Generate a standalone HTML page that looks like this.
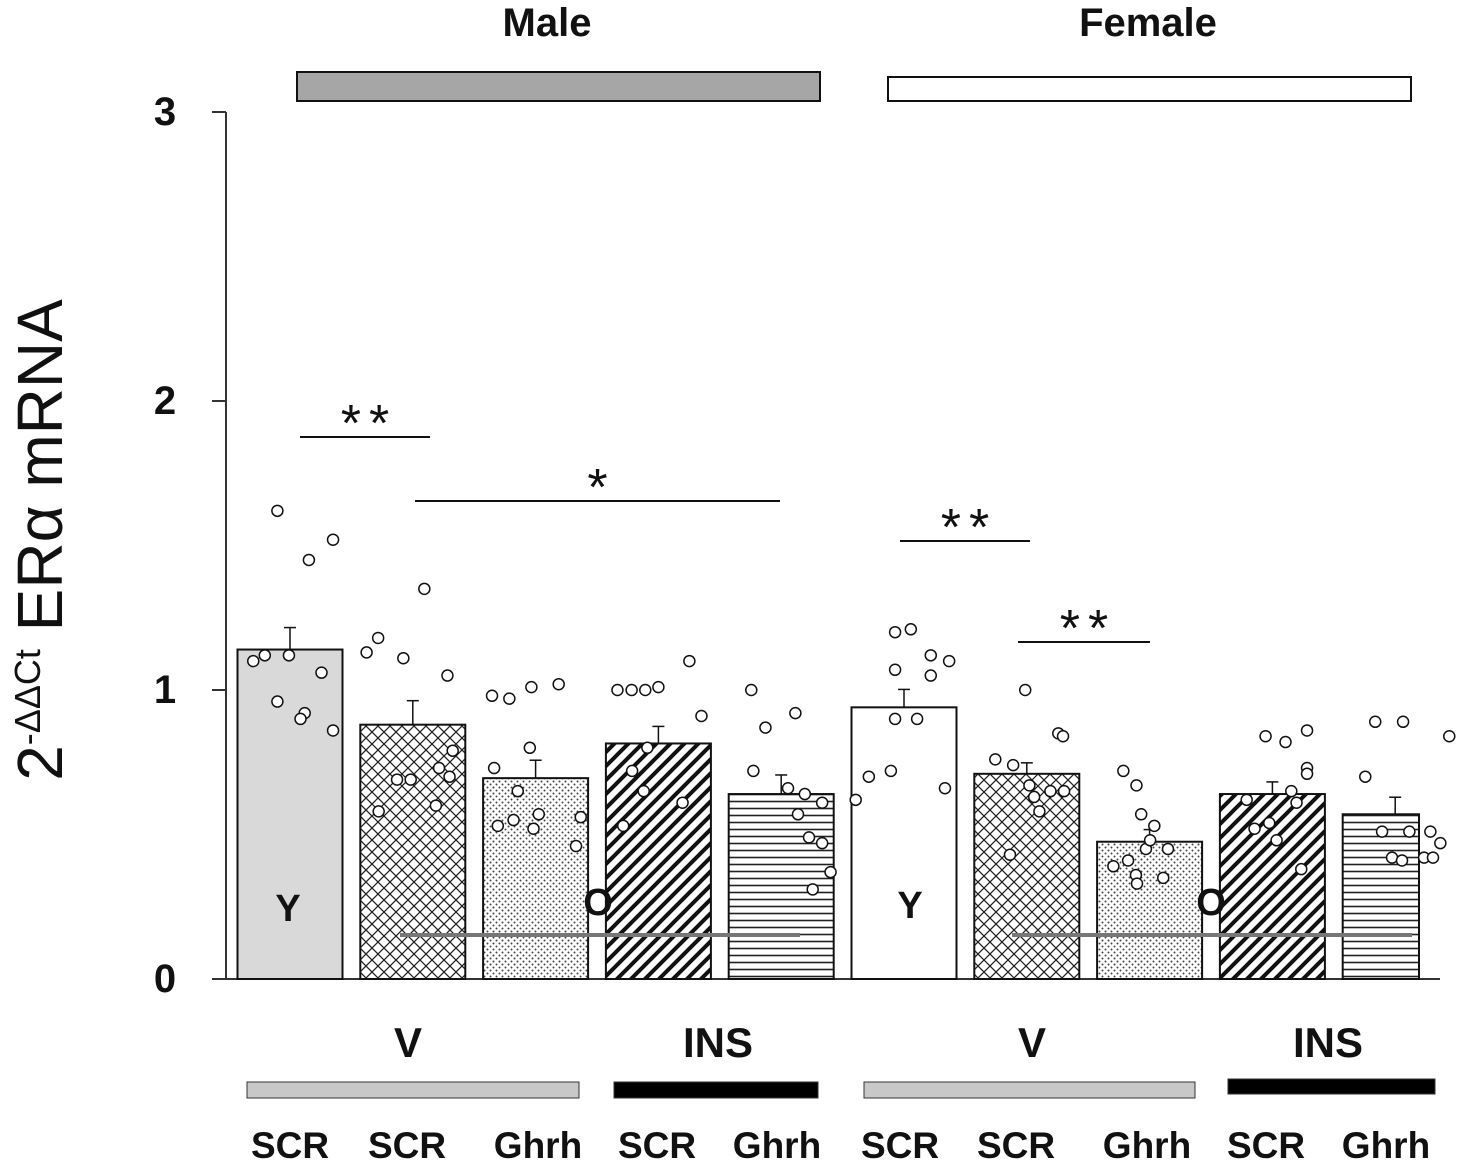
<!DOCTYPE html>
<html><head><meta charset="utf-8">
<style>
html,body{margin:0;padding:0;background:#fff;}
svg{display:block;font-family:"Liberation Sans",Arial,sans-serif;}
</style></head>
<body>
<svg id="chart" width="1464" height="1162" viewBox="0 0 1464 1162" xmlns="http://www.w3.org/2000/svg">
<defs>
<pattern id="pCross" patternUnits="userSpaceOnUse" width="12" height="12">
<rect width="12" height="12" fill="#fff"/>
<path d="M0,0 L12,12 M12,0 L0,12" stroke="#222" stroke-width="1.3"/>
</pattern>
<pattern id="pDots" patternUnits="userSpaceOnUse" width="6" height="6">
<rect width="6" height="6" fill="#fff"/>
<circle cx="1.5" cy="1.5" r="1" fill="#444"/><circle cx="4.5" cy="4.5" r="1" fill="#444"/>
</pattern>
<pattern id="pDiag" patternUnits="userSpaceOnUse" width="14" height="14">
<rect width="14" height="14" fill="#fff"/>
<path d="M-2,16 L16,-2 M-2,2 L2,-2 M12,16 L16,12" stroke="#111" stroke-width="4"/>
</pattern>
<pattern id="pHoriz" patternUnits="userSpaceOnUse" width="8" height="7">
<rect width="8" height="7" fill="#fff"/>
<line x1="0" y1="3.5" x2="8" y2="3.5" stroke="#222" stroke-width="1.6"/>
</pattern>
</defs>
<g id="plot"></g>
</svg>
<script>
const categories = ["M-Y-V-SCR","M-O-V-SCR","M-O-V-Ghrh","M-O-INS-SCR","M-O-INS-Ghrh","F-Y-V-SCR","F-O-V-SCR","F-O-V-Ghrh","F-O-INS-SCR","F-O-INS-Ghrh"];
const means = [1.14,0.88,0.695,0.815,0.64,0.94,0.71,0.475,0.64,0.57];
const errors = [0.076,0.083,0.062,0.059,0.066,0.062,0.038,0.042,0.042,0.059];
const fills = ["#d9d9d9","url(#pCross)","url(#pDots)","url(#pDiag)","url(#pHoriz)","#fff","url(#pCross)","url(#pDots)","url(#pDiag)","url(#pHoriz)"];
const dotOffsets = [
[-0.24,0.36,0.82,-0.7,-0.48,-0.02,0.6,-0.24,0.28,0.2,0.82],
[-0.88,-0.66,-0.18,0.22,0.66,0.76,-0.65,-0.3,-0.04,0.5,0.7,0.44],
[-0.83,-0.5,-0.08,0.44,-0.79,-0.11,-0.34,-0.72,-0.42,-0.04,0.06,0.86,0.77],
[-0.78,-0.51,-0.25,0.0,0.59,0.82,-0.5,-0.21,-0.28,0.46,-0.67],
[-0.57,-0.3,0.27,-0.53,0.32,0.53,0.78,0.13,0.45,0.78,0.6,0.94],
[-0.92,-0.67,-0.25,-0.17,0.13,-0.17,0.25,-0.17,0.51,0.86,0.51,0.78],
[-0.6,-0.26,-0.03,0.05,0.14,0.24,-0.32,0.45,0.6,0.69,0.71],
[-0.5,-0.25,-0.16,0.09,-0.69,-0.41,-0.26,-0.24,-0.07,0.26,0.35,0.01],
[-0.13,0.25,0.66,0.66,0.66,-0.49,-0.34,-0.06,0.08,0.36,0.46,0.55],
[-0.38,0.15,-0.57,1.03,-0.25,-0.06,0.13,0.27,0.55,0.72,0.86,0.67]
];
const dotValues = [
[1.62,1.45,1.52,1.10,1.12,1.12,1.06,0.96,0.92,0.90,0.86],
[1.13,1.18,1.11,1.35,1.05,0.79,0.58,0.69,0.69,0.73,0.70,0.60],
[0.98,0.97,1.01,1.02,0.73,0.80,0.65,0.53,0.55,0.52,0.57,0.56,0.46],
[1.00,1.00,1.00,1.01,1.10,0.91,0.72,0.80,0.65,0.61,0.53],
[1.00,0.87,0.92,0.72,0.57,0.49,0.47,0.66,0.64,0.61,0.31,0.37],
[0.62,0.70,0.72,1.20,1.21,1.07,0.90,0.90,1.05,1.10,1.12,0.66],
[0.76,0.74,1.00,0.67,0.63,0.58,0.43,0.65,0.85,0.84,0.65],
[0.72,0.67,0.57,0.53,0.39,0.41,0.36,0.33,0.45,0.35,0.45,0.48],
[0.84,0.82,0.86,0.73,0.71,0.62,0.52,0.54,0.48,0.65,0.61,0.38],
[0.89,0.89,0.70,0.84,0.51,0.42,0.41,0.51,0.42,0.42,0.47,0.51]
];
const yTicks = [0,1,2,3];
const xLabels = ["SCR","SCR","Ghrh","SCR","Ghrh","SCR","SCR","Ghrh","SCR","Ghrh"];

const NS="http://www.w3.org/2000/svg";
const g=document.getElementById('plot');
function y(v){return 979-v*289;}
function xc(i){return 290+122.8*i;}
const BW=105;
const RIGHT_EDGE=1419;
function el(t,a,p){const e=document.createElementNS(NS,t);for(const k in a)e.setAttribute(k,a[k]);(p||g).appendChild(e);return e;}
function txt(x,yy,s,size,name,extra){const e=el('text',Object.assign({x:x,y:yy,'font-size':size,'font-weight':'bold','text-anchor':'middle',fill:'#111'},extra||{}));e.textContent=s;


return e;}

let ax=el('line',{x1:226,y1:112,x2:226,y2:979,stroke:'#333','stroke-width':2});


let bx=el('line',{x1:212,y1:979,x2:1440,y2:979,stroke:'#333','stroke-width':2});


yTicks.forEach(t=>{
  let tk=el('line',{x1:212,y1:y(t),x2:226,y2:y(t),stroke:'#333','stroke-width':2});
  
  
  txt(165,y(t)+13,String(t),40,'y-tick-label');
});

categories.forEach((c,i)=>{
  const cx=xc(i), top=y(means[i]);
  const left=cx-BW/2;
  const w=Math.min(BW,RIGHT_EDGE-left);
  let r=el('rect',{x:left,y:top,width:w,height:979-top,fill:fills[i],stroke:'#111','stroke-width':2});
  
  
  let e1=el('line',{x1:cx,y1:top,x2:cx,y2:y(means[i]+errors[i]),stroke:'#111','stroke-width':1.5});
  
  
  let e2=el('line',{x1:cx-6,y1:y(means[i]+errors[i]),x2:cx+6,y2:y(means[i]+errors[i]),stroke:'#111','stroke-width':1.5});
  
  
});
dotValues.forEach((arr,i)=>{
  arr.forEach((v,j)=>{
    let d=el('circle',{cx:xc(i)+dotOffsets[i][j]*BW/2,cy:y(v),r:5.5,fill:'#fff',stroke:'#111','stroke-width':1.5});
    
    
  });
});

txt(288,921,'Y',38,'young-label');
txt(598,915,'O',38,'old-label');
txt(910,918,'Y',38,'young-label');
txt(1211,915,'O',38,'old-label');
[[400,800],[1012,1412]].forEach(p=>{
  let l=el('line',{x1:p[0],y1:935,x2:p[1],y2:935,stroke:'#777','stroke-width':4});
  
  
});

[[300,430,437,'**'],[415,780,501,'*'],[900,1030,541,'**'],[1018,1150,642,'**']].forEach(s=>{
  let l=el('line',{x1:s[0],y1:s[2],x2:s[1],y2:s[2],stroke:'#111','stroke-width':2});
  
  
  txt((s[0]+s[1])/2+4,s[2]+4,s[3],52,'significance-mark',{'font-weight':'normal','letter-spacing':'8'});
});

txt(547,36,'Male',40,'male-title');
txt(1148,36,'Female',40,'female-title');
let mb=el('rect',{x:297,y:72,width:523,height:29,fill:'#a6a6a6',stroke:'#111','stroke-width':2});


let fb=el('rect',{x:888,y:77,width:523,height:24,fill:'#fff',stroke:'#111','stroke-width':2});



txt(408,1057,'V',42,'vehicle-label');
txt(718,1057,'INS',42,'insulin-label');
txt(1032,1057,'V',42,'vehicle-label');
txt(1328,1057,'INS',42,'insulin-label');
[[247,1082,332,16,'#c8c8c8'],[614,1082,204,16,'#000'],[864,1082,331,16,'#c8c8c8'],[1228,1079,207,15,'#000']].forEach(b=>{
  let r=el('rect',{x:b[0],y:b[1],width:b[2],height:b[3],fill:b[4],stroke:'#333','stroke-width':1});
  
  
});
const labelX=[290,407,538,657,777,900,1016,1147,1266,1386];
xLabels.forEach((s,i)=>{txt(labelX[i],1158,s,37,'x-label');});

let yt=el('text',{x:0,y:0,'font-size':64,fill:'#111','text-anchor':'middle',transform:'translate(62,540) rotate(-90)'});


yt.innerHTML='2<tspan dy="-22" font-size="36">-ΔΔCt</tspan><tspan dy="22"> ERα mRNA</tspan>';
</script>
</body></html>
